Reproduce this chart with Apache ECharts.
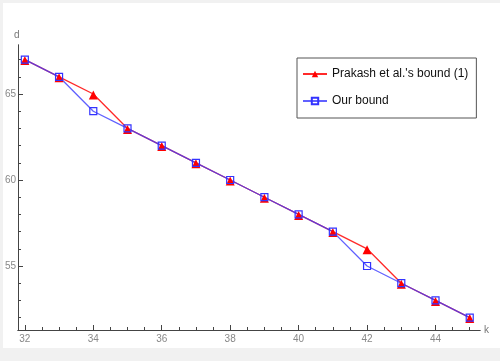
<!DOCTYPE html>
<html><head><meta charset="utf-8">
<script src="https://cdn.jsdelivr.net/npm/echarts@6/dist/echarts.min.js"></script>
<style>html,body{margin:0;padding:0;background:#fff}#c{width:500px;height:361px}</style>
</head><body><div id="c"></div>
<script>
var kValues = [32,33,34,35,36,37,38,39,40,41,42,43,44,45];
var prakash = [67,66,65,63,62,61,60,59,58,57,56,54,53,52];
var ours = [67,66,64,63,62,61,60,59,58,57,55,54,53,52];
var xMajorTicks = [32,34,36,38,40,42,44];
var xMinorTicks = [32,32.5,33,33.5,34,34.5,35,35.5,36,36.5,37,37.5,38,38.5,39,39.5,40,40.5,41,41.5,42,42.5,43,43.5,44,44.5,45];
var yMajorTicks = [55,60,65];
var yMinorTicks = [52,53,54,55,56,57,58,59,60,61,62,63,64,65,66,67];

function pairs(ys){ return kValues.map(function(k,i){ return [k, ys[i]]; }); }

var chart = echarts.init(document.getElementById('c'));
var axisCol = '#444';
var lblCol = '#888';
var baseX = {type:'value', min:31.8, max:45.3, position:'bottom', splitLine:{show:false},
  axisLine:{lineStyle:{color:axisCol,width:1}}};
var baseY = {type:'value', min:51.28, max:67.85, position:'left', splitLine:{show:false},
  axisLine:{lineStyle:{color:axisCol,width:1}}};
chart.setOption({
  animation:false,
  backgroundColor:'#fff',
  graphic:[
    {type:'rect', shape:{x:0,y:0,width:500,height:361}, style:{fill:'#f1f1f1'}, z:-10},
    {type:'rect', shape:{x:3,y:3,width:497,height:345}, style:{fill:'#fff'}, z:-9},
    {type:'text', left:14, top:30, style:{text:'d', fill:'#777', font:'10px "Liberation Sans", Arial'}},
    {type:'text', left:484, top:325, style:{text:'k', fill:'#777', font:'10px "Liberation Sans", Arial'}}
  ],
  grid:{left:18, right:20, top:45, bottom:31},
  xAxis:[
    Object.assign({}, baseX, {axisTick:{show:true, inside:true, length:3, customValues:xMinorTicks, lineStyle:{color:axisCol}}, axisLabel:{show:false}}),
    Object.assign({}, baseX, {axisTick:{show:true, inside:true, length:5, customValues:xMajorTicks, lineStyle:{color:axisCol}},
      axisLabel:{show:true, customValues:xMajorTicks, color:lblCol, fontSize:10, fontFamily:'"Liberation Sans", Arial', margin:4}})
  ],
  yAxis:[
    Object.assign({}, baseY, {axisTick:{show:true, inside:true, length:3, customValues:yMinorTicks, lineStyle:{color:axisCol}}, axisLabel:{show:false}}),
    Object.assign({}, baseY, {axisTick:{show:true, inside:true, length:5, customValues:yMajorTicks, lineStyle:{color:axisCol}},
      axisLabel:{show:true, customValues:yMajorTicks, color:lblCol, fontSize:10, fontFamily:'"Liberation Sans", Arial', margin:2}})
  ],
  legend:{
    show:true, left:297, top:58, width:178, orient:'vertical', itemGap:15,
    padding:[10,8,11,5], borderColor:'#555', borderWidth:1, backgroundColor:'#fff',
    itemWidth:24, itemHeight:8,
    textStyle:{color:'#111', fontSize:12, fontFamily:'"Liberation Sans", Arial'},
    data:['Prakash et al.\'s bound (1)','Our bound']
  },
  series:[
    {name:'Prakash et al.\'s bound (1)', type:'line', data:pairs(prakash), xAxisIndex:0, yAxisIndex:0,
      symbol:'triangle', symbolSize:9, symbolOffset:[0,1],
      lineStyle:{color:'#ff2a2a', width:1.3}, itemStyle:{color:'#ff0000'}},
    {name:'Our bound', type:'line', data:pairs(ours), xAxisIndex:0, yAxisIndex:0,
      symbol:'rect', symbolSize:7, showAllSymbol:true,
      lineStyle:{color:'#3a3aff', width:1.3, opacity:0.8},
      itemStyle:{color:'rgba(0,0,0,0)', borderColor:'#3333ff', borderWidth:1.2}}
  ]
});
</script></body></html>
